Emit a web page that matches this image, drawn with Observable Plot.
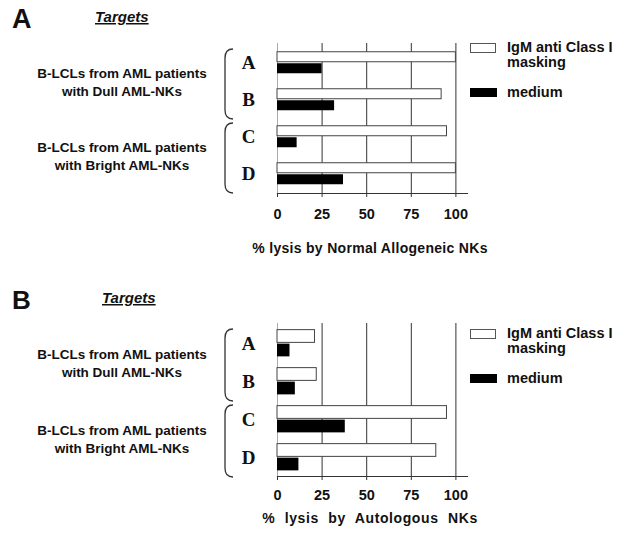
<!DOCTYPE html>
<html><head><meta charset="utf-8">
<script src="https://cdn.jsdelivr.net/npm/d3@7"></script>
<script src="https://cdn.jsdelivr.net/npm/@observablehq/plot@0.6"></script>
<style>
body{margin:0;background:#fff}
svg{display:block}
</style>
</head><body><div id="chart"></div>
<script>
// ---- data ----
const targets = ["A", "B", "C", "D"];
const groupLabels = [["B-LCLs from AML patients", "with Dull AML-NKs"], ["B-LCLs from AML patients", "with Bright AML-NKs"]];
const groupMembers = [["A", "B"], ["C", "D"]];
const legendIgM = ["IgM anti Class I", "masking"];
const legendMedium = ["medium"];
const xTicks = [0, 25, 50, 75, 100];
const allogeneicIgM = [100, 92, 95, 100];
const allogeneicMedium = [25, 32, 11, 37];
const autologousIgM = [21, 22, 95, 89];
const autologousMedium = [7, 10, 38, 12];
const panelLetters = ["A", "B"];
const panelHeading = "Targets";
const xLabels = ["% lysis by Normal Allogeneic NKs", "% lysis by Autologous NKs"];

const SANS = "'Liberation Sans', Arial, Helvetica, sans-serif";
const SERIF = "'Liberation Serif', 'Times New Roman', serif";

function panel(cfg) {
  const W = 617;
  const igm = targets.map((t, i) => ({target: t, value: cfg.igm[i]}));
  const med = targets.map((t, i) => ({target: t, value: cfg.medium[i]}));
  const bw = (cfg.height - cfg.mt - cfg.mb) / targets.length;
  const outer = (bw - cfg.pairH) / 2;
  const inner = bw / 2 + cfg.gap / 2;
  const plot = Plot.plot({
    width: W, height: cfg.height,
    marginTop: cfg.mt, marginBottom: cfg.mb, marginLeft: 277, marginRight: 150,
    style: {fontFamily: SANS, fontSize: "14.5px", fontWeight: "bold", color: "#111", background: "#fff"},
    x: {domain: [0, 106.5]},
    y: {domain: targets, padding: 0, axis: null},
    marks: [
      Plot.ruleX([0], {stroke: "#aaa", strokeWidth: 1}),
      Plot.gridX(xTicks.slice(1), {stroke: "#333", strokeOpacity: 1, strokeWidth: 1}),
      Plot.barX(igm, {x1: 0, x2: "value", y: "target", fill: "white", stroke: "#444", strokeWidth: 1, insetTop: outer, insetBottom: inner}),
      Plot.barX(med, {x1: 0, x2: "value", y: "target", fill: "black", insetTop: inner, insetBottom: outer}),
      Plot.frame({anchor: "bottom", stroke: "#333", strokeWidth: 1.2}),
      Plot.axisX(xTicks, {tickSize: 4, tickPadding: cfg.tickPadding, label: null, stroke: "#333"}),
      Plot.text(targets, {y: d => d, text: d => d, frameAnchor: "left", dx: -29, textAnchor: "middle",
        fontFamily: SERIF, fontSize: 19, fontWeight: "bold", fill: "#111"})
    ]
  });
  const svg = d3.select(plot);
  const ys = plot.scale("y");
  const xs = plot.scale("x");
  const yb = ys.bandwidth;

  // panel letter and heading
  svg.append("text").attr("x", 12).attr("y", cfg.letterY).attr("font-size", cfg.letterSize).attr("text-anchor", "start")
    .attr("font-weight", "bold").attr("font-family", SANS).attr("fill", "#111").text(cfg.letter);
  svg.append("text").attr("x", cfg.headX).attr("y", cfg.headY).attr("font-size", 15).attr("text-anchor", "start")
    .attr("font-weight", "bold").attr("font-style", "italic").attr("font-family", SANS).attr("fill", "#111")
    .attr("text-decoration", "underline").text(panelHeading);

  // groups: labels + brackets
  groupMembers.forEach((members, gi) => {
    const top = ys.apply(members[0]);
    const bottom = ys.apply(members[members.length - 1]) + yb;
    const gc = (top + bottom) / 2;
    const y1 = top + 5, y2 = bottom + 1;
    const bx = 225;
    svg.append("path")
      .attr("d", `M${bx + 8},${y1} Q${bx},${y1} ${bx},${y1 + 9} L${bx},${y2 - 9} Q${bx},${y2} ${bx + 8},${y2}`)
      .attr("fill", "none").attr("stroke", "#333").attr("stroke-width", 1.3);
    groupLabels[gi].forEach((line, li) => {
      svg.append("text").attr("x", 122).attr("y", gc - 3 + li * 18).attr("text-anchor", "middle")
        .attr("font-size", 13.5).attr("font-weight", "bold").attr("font-family", SANS).attr("fill", "#111").text(line);
    });
  });

  // legend
  const lt = cfg.legendTop;
  svg.append("rect").attr("x", 470.5).attr("y", lt + 0.5).attr("width", 25).attr("height", 9)
    .attr("fill", "white").attr("stroke", "#555");
  legendIgM.forEach((line, i) => {
    svg.append("text").attr("x", 507).attr("y", lt + 9 + i * 15).attr("font-size", 14.5).attr("text-anchor", "start")
      .attr("font-weight", "bold").attr("font-family", SANS).attr("fill", "#111").text(line);
  });
  svg.append("rect").attr("x", 470).attr("y", lt + 45).attr("width", 27).attr("height", 9).attr("fill", "black");
  svg.append("text").attr("x", 507).attr("y", lt + 54).attr("font-size", 14.5).attr("text-anchor", "start")
    .attr("font-weight", "bold").attr("font-family", SANS).attr("fill", "#111").text(legendMedium[0]);

  // x label
  const [r0, r1] = xs.range;
  svg.append("text").attr("x", (r0 + r1) / 2 - 2).attr("y", cfg.xLabelY).attr("text-anchor", "middle")
    .attr("font-size", 14).attr("font-weight", "bold").attr("font-family", SANS).attr("fill", "#111")
    .attr("word-spacing", cfg.wordSpacing).attr("letter-spacing", cfg.letterSpacing).text(cfg.xLabel);
  return plot;
}

const root = document.getElementById("chart");
root.append(panel({
  igm: allogeneicIgM, medium: allogeneicMedium, letter: panelLetters[0], xLabel: xLabels[0],
  height: 265, mt: 43, mb: 72, pairH: 22, gap: 1, tickPadding: 11,
  letterY: 28, letterSize: 27, headX: 95, headY: 22, legendTop: 43, xLabelY: 253,
  wordSpacing: 0, letterSpacing: 0.3
}));
root.append(panel({
  igm: autologousIgM, medium: autologousMedium, letter: panelLetters[1], xLabel: xLabels[1],
  height: 268, mt: 58, mb: 57, pairH: 27, gap: 1, tickPadding: 9,
  letterY: 44, letterSize: 26, headX: 102, headY: 38, legendTop: 64, xLabelY: 258,
  wordSpacing: 5, letterSpacing: 0.6
}));
</script>
</body></html>
